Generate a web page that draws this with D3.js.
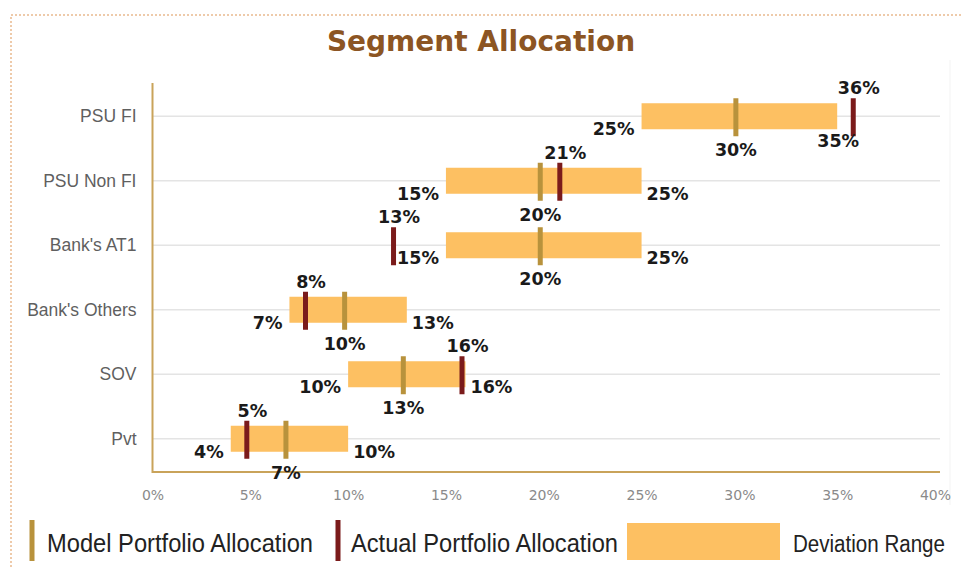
<!DOCTYPE html>
<html>
<head>
<meta charset="utf-8">
<script src="https://cdn.jsdelivr.net/npm/d3@7"></script>
<style>
  html, body { margin: 0; padding: 0; background: #ffffff; }
  svg { display: block; }
</style>
</head>
<body>
<svg id="chart" width="962" height="567"></svg>
<script>
// ---------- data ----------
const categories = ["PSU FI", "PSU Non FI", "Bank's AT1", "Bank's Others", "SOV", "Pvt"];
const rangeLow   = [25, 15, 15, 7, 10, 4];
const rangeHigh  = [35, 25, 25, 13, 16, 10];
const modelAlloc = [30, 20, 20, 10, 13, 7];
const actualAlloc = [36, 21, 12.5, 8, 16, 5];
const xTicks = [0, 5, 10, 15, 20, 25, 30, 35, 40];
const legendLabels = ["Model Portfolio Allocation", "Actual Portfolio Allocation", "Deviation Range"];
const titleText = "Segment Allocation";

// ---------- styles ----------
const C = {
  bar: "#fdc062",
  model: "#b8923c",
  actual: "#7b1b1b",
  axis: "#c9a35a",
  grid: "#e4e4e4",
  title: "#8c5523",
  cat: "#5f5f5f",
  tick: "#8a8a8a",
  label: "#1a1a1a",
  border: "#e9b98e"
};

const svg = d3.select("#chart");

// border
svg.append("rect")
  .attr("x", 11).attr("y", 15)
  .attr("width", 980).attr("height", 600)
  .attr("fill", "none")
  .attr("stroke", C.border)
  .attr("stroke-width", 1.5)
  .attr("stroke-dasharray", "2,2");

// title
svg.append("text")
  .attr("x", 481).attr("y", 51)
  .attr("text-anchor", "middle")
  .attr("font-family", "DejaVu Sans, Verdana, sans-serif")
  .attr("font-weight", "bold")
  .attr("font-size", 28)
  .attr("fill", C.title)
  .text(titleText);

// scales
const x = d3.scaleLinear().domain([0, 40]).range([152.5, 935]);
const y = d3.scalePoint().domain(categories).range([84, 471]).padding(0.5);
const rows = categories.map((c, i) => ({
  cat: c, lo: rangeLow[i], hi: rangeHigh[i], model: modelAlloc[i], actual: actualAlloc[i]
}));

// faint right edge
svg.append("line")
  .attr("x1", 950).attr("x2", 950).attr("y1", 60).attr("y2", 505)
  .attr("stroke", "#f3f3f3").attr("stroke-width", 1);

// gridlines
svg.append("g").selectAll("line").data(categories).join("line")
  .attr("x1", x(0)).attr("x2", 940)
  .attr("y1", d => y(d)).attr("y2", d => y(d))
  .attr("stroke", C.grid).attr("stroke-width", 1.5);

// x axis
const xAxis = svg.append("g")
  .attr("transform", "translate(0,472)")
  .call(d3.axisBottom(x).tickValues(xTicks).tickFormat(d => d + "%").tickSize(0).tickSizeOuter(0).tickPadding(18));
xAxis.select(".domain").attr("stroke", C.axis).attr("stroke-width", 2).attr("d", `M${x(0)},0H940`);
xAxis.selectAll("text")
  .attr("font-family", "DejaVu Sans, sans-serif")
  .attr("font-size", 14)
  .attr("fill", C.tick);

// y axis
const yAxis = svg.append("g")
  .attr("transform", `translate(${x(0)},0)`)
  .call(d3.axisLeft(y).tickSize(0).tickPadding(16));
yAxis.select(".domain").attr("stroke", C.axis).attr("stroke-width", 2).attr("d", "M0,83V473");
yAxis.selectAll("text")
  .attr("font-family", "Liberation Sans, Arial, sans-serif")
  .attr("font-size", 17.5)
  .attr("fill", C.cat);

// deviation range bars
const barH = 26;
svg.append("g").selectAll("rect").data(rows).join("rect")
  .attr("x", d => x(d.lo))
  .attr("width", d => x(d.hi) - x(d.lo))
  .attr("y", d => y(d.cat) - barH / 2)
  .attr("height", barH)
  .attr("fill", C.bar);

// markers
const mW = 5, mOff = -3.5, mTop = 18, mBot = 20;
svg.append("g").selectAll("rect").data(rows).join("rect")
  .attr("x", d => x(d.model) + mOff - mW / 2)
  .attr("width", mW)
  .attr("y", d => y(d.cat) - mTop)
  .attr("height", mTop + mBot)
  .attr("fill", C.model);
svg.append("g").selectAll("rect").data(rows).join("rect")
  .attr("x", d => x(d.actual) + mOff - mW / 2)
  .attr("width", mW)
  .attr("y", d => y(d.cat) - mTop)
  .attr("height", mTop + mBot)
  .attr("fill", C.actual);

// labels
const pct = v => Math.round(v) + "%";
const lab = svg.append("g")
  .attr("font-family", "DejaVu Sans, Verdana, sans-serif")
  .attr("font-weight", "bold")
  .attr("font-size", 17.5)
  .attr("fill", C.label);

// low
lab.selectAll(".lo").data(rows).join("text").attr("class", "lo")
  .attr("x", d => x(d.lo) - 7)
  .attr("y", d => y(d.cat) + 19)
  .attr("text-anchor", "end")
  .text(d => pct(d.lo));
// high (centered beneath when the actual marker sits right next to the bar end)
const nearEnd = d => d.actual > d.hi && d.actual - d.hi < 2;
lab.selectAll(".hi").data(rows).join("text").attr("class", "hi")
  .attr("x", d => nearEnd(d) ? x(d.hi) + 1 : x(d.hi) + 5)
  .attr("y", d => nearEnd(d) ? y(d.cat) + 31 : y(d.cat) + 19)
  .attr("text-anchor", d => nearEnd(d) ? "middle" : "start")
  .text(d => pct(d.hi));
// model
lab.selectAll(".md").data(rows).join("text").attr("class", "md")
  .attr("x", d => x(d.model) + mOff)
  .attr("y", d => y(d.cat) + 40)
  .attr("text-anchor", "middle")
  .text(d => pct(d.model));
// actual
lab.selectAll(".ac").data(rows).join("text").attr("class", "ac")
  .attr("x", d => x(d.actual) + 2)
  .attr("y", d => y(d.cat) - 22)
  .attr("text-anchor", "middle")
  .text(d => pct(d.actual));

// legend
const lg = svg.append("g");
lg.append("rect").attr("x", 29.5).attr("y", 520).attr("width", 5).attr("height", 41).attr("fill", C.model);
lg.append("rect").attr("x", 335.5).attr("y", 520).attr("width", 5).attr("height", 41).attr("fill", C.actual);
lg.append("rect").attr("x", 627).attr("y", 523).attr("width", 153).attr("height", 37).attr("fill", C.bar);
const legTextX = [47, 351, 793];
const legTextW = [266, 267, 152];
lg.selectAll("text").data(legendLabels).join("text")
  .attr("x", (d, i) => legTextX[i])
  .attr("y", 552)
  .attr("font-family", "Liberation Sans, Arial, sans-serif")
  .attr("font-size", (d, i) => i === 2 ? 23 : 25)
  .attr("fill", "#222222")
  .attr("textLength", (d, i) => legTextW[i])
  .attr("lengthAdjust", "spacingAndGlyphs")
  .text(d => d);
</script>
</body>
</html>
